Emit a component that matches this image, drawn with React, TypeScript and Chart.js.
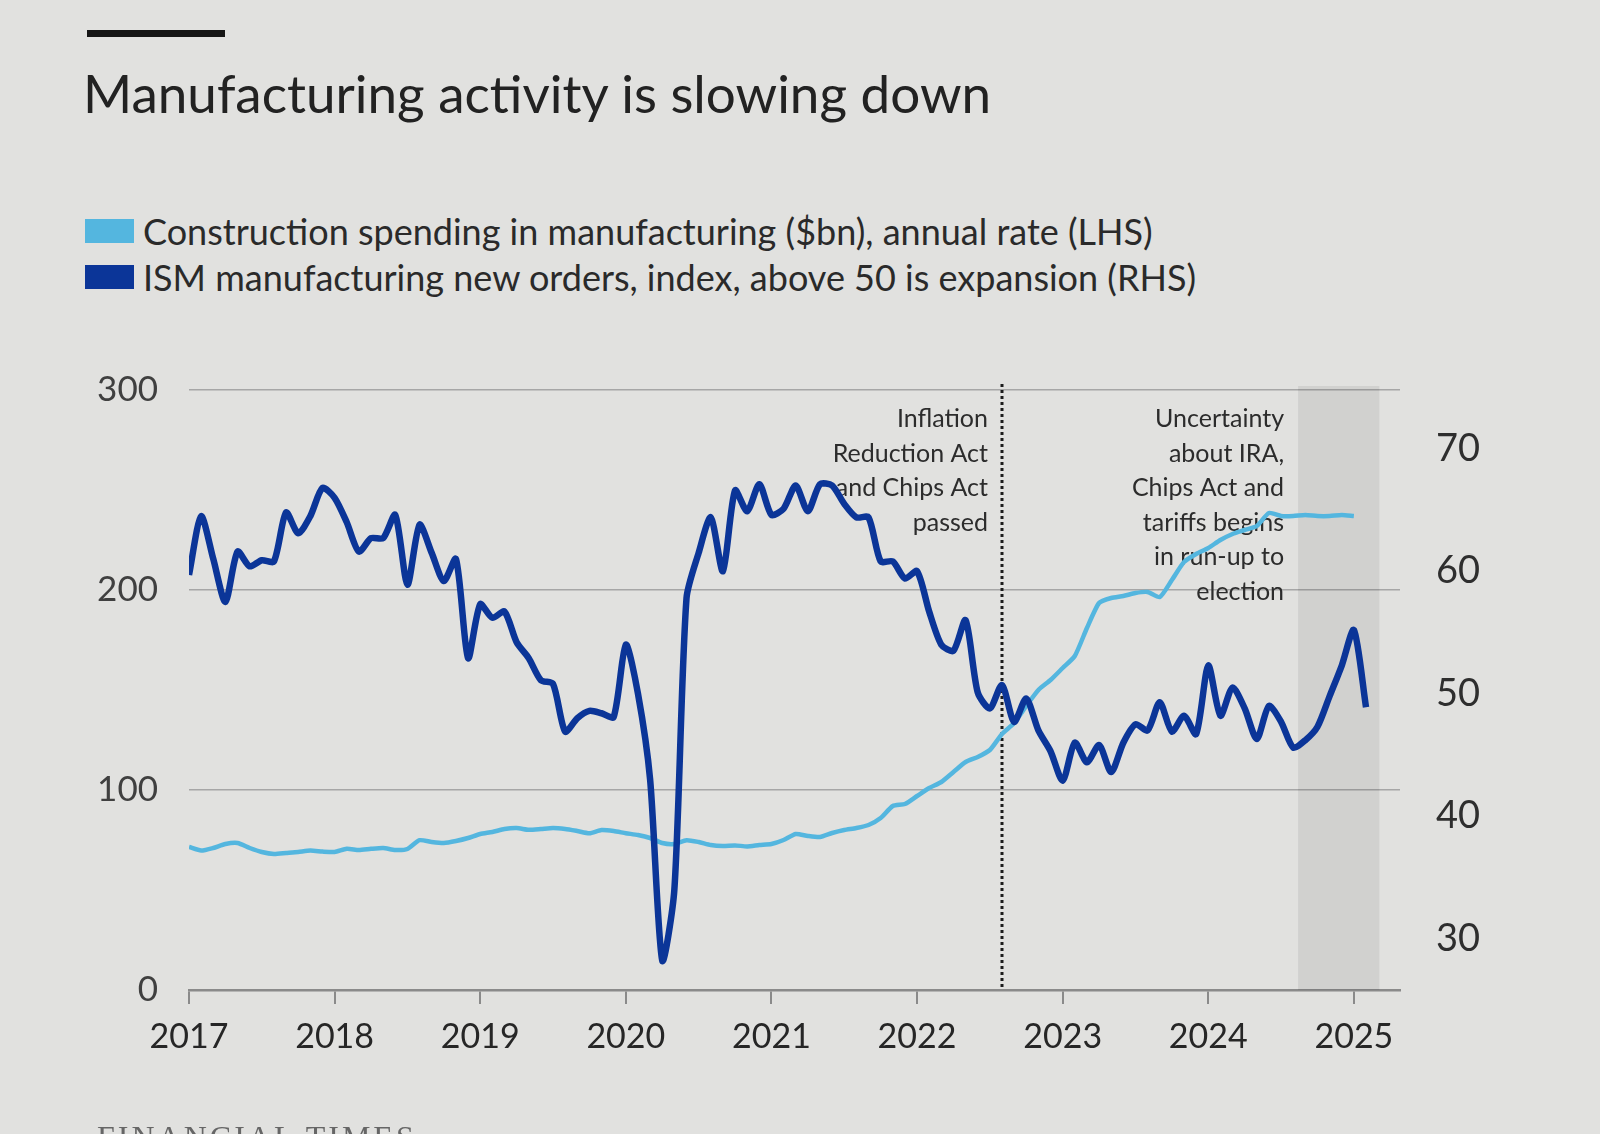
import React, { useEffect, useRef } from "react";
import { Chart, registerables } from "chart.js";

Chart.register(...registerables);

// ---- Data ----
const yearLabels = ["2017", "2018", "2019", "2020", "2021", "2022", "2023", "2024", "2025"];

// ISM manufacturing new orders index, monthly Jan 2017 - Feb 2025 (RHS)
const ismNewOrders = [
  59.7, 64.5, 61.0, 57.5, 61.6, 60.4, 60.9, 60.8, 64.8, 63.1, 64.5, 66.8,
  66.0, 64.0, 61.6, 62.7, 62.7, 64.6, 58.9, 63.8, 61.5, 59.2, 61.0, 52.9,
  57.3, 56.2, 56.7, 54.2, 52.9, 51.1, 50.8, 46.9, 48.0, 48.6, 48.4, 48.1,
  54.0, 50.0, 43.0, 28.2, 34.0, 57.8, 61.5, 64.4, 60.0, 66.6, 64.9, 67.1,
  64.6, 65.1, 67.0, 64.9, 67.1, 67.0, 65.5, 64.4, 64.4, 60.8, 60.8, 59.4,
  60.0, 56.7, 54.0, 53.5, 56.0, 50.1, 48.8, 50.7, 47.7, 49.6, 47.0, 45.3,
  42.9, 46.0, 44.4, 45.8, 43.6, 46.0, 47.5, 47.0, 49.3, 46.9, 48.2, 46.7,
  52.3, 48.2, 50.5, 48.8, 46.3, 49.0, 47.7, 45.6, 46.2, 47.3, 49.8, 52.3,
  55.2, 48.9,
];

// Construction spending in manufacturing ($bn, annual rate), Jan 2017 - Jan 2025 (LHS)
const constructionSpending = [
  71.5, 69.7, 71.0, 73.0, 73.5, 71.0, 69.0, 68.0, 68.5, 69.0, 69.7, 69.2,
  69.0, 70.6, 70.0, 70.6, 71.0, 70.0, 70.5, 74.9, 74.0, 73.5, 74.5, 76.0,
  78.0, 79.0, 80.5, 81.0, 80.1, 80.5, 81.0, 80.5, 79.5, 78.4, 80.0, 79.5,
  78.4, 77.5, 76.0, 73.5, 73.0, 74.9, 74.0, 72.5, 72.0, 72.3, 71.8, 72.5,
  73.0, 75.0, 78.0, 77.0, 76.5, 78.5, 80.0, 81.0, 82.5, 86.0, 92.0, 93.0,
  97.0, 101.0, 104.0, 109.0, 114.0, 116.5, 120.0, 128.0, 133.5, 142.0, 150.0, 155.0,
  161.0, 167.0, 181.0, 193.5, 196.0, 197.0, 198.5, 199.0, 196.5, 205.0, 214.0, 218.0,
  221.0, 225.0, 228.0, 230.0, 232.0, 238.5, 237.0, 237.0, 237.5, 237.0, 237.0, 237.5,
  237.0,
];

const leftTicks = [0, 100, 200, 300];
const rightTicks = [30, 40, 50, 60, 70];

// months since Jan 2017
const iraPassedMonth = 67; // Aug 2022
const uncertaintyStart = 91.4; // Aug 2024
const uncertaintyEnd = 98.1;

const iraNote = ["Inflation", "Reduction Act", "and Chips Act", "passed"];
const uncertaintyNote = ["Uncertainty", "about IRA,", "Chips Act and", "tariffs begins", "in run-up to", "election"];

const legendItems = [
  { label: "Construction spending in manufacturing ($bn), annual rate (LHS)", color: "#54b6df" },
  { label: "ISM manufacturing new orders, index, above 50 is expansion (RHS)", color: "#0b3598" },
];

const FONT = "Lato, 'Open Sans', sans-serif";

const overlayPlugin = {
  id: "overlayNotes",
  beforeDatasetsDraw(chart: any) {
    const { ctx, chartArea, scales } = chart;
    const xs = scales.x;
    ctx.save();
    const b0 = xs.getPixelForValue(uncertaintyStart);
    const b1 = xs.getPixelForValue(uncertaintyEnd);
    ctx.fillStyle = "rgba(0,0,0,0.07)";
    ctx.fillRect(b0, chartArea.top - 4, b1 - b0, chartArea.bottom - chartArea.top + 4);

    const dx = xs.getPixelForValue(iraPassedMonth);
    ctx.strokeStyle = "#1c1c1c";
    ctx.lineWidth = 3;
    ctx.setLineDash([3, 3]);
    ctx.beginPath();
    ctx.moveTo(dx, chartArea.top - 6);
    ctx.lineTo(dx, chartArea.bottom);
    ctx.stroke();
    ctx.setLineDash([]);

    ctx.font = `25px ${FONT}`;
    ctx.fillStyle = "#2c2c2c";
    ctx.textAlign = "right";
    ctx.textBaseline = "middle";
    iraNote.forEach((t, i) => ctx.fillText(t, dx - 14, chartArea.top + 29 + i * 34.5));
    uncertaintyNote.forEach((t, i) => ctx.fillText(t, b0 - 14, chartArea.top + 29 + i * 34.5));
    ctx.restore();
  },
};

export default function App() {
  const canvasRef = useRef<HTMLCanvasElement | null>(null);

  useEffect(() => {
    if (!canvasRef.current) return;
    const chart = new Chart(canvasRef.current, {
      type: "line",
      data: {
        datasets: [
          {
            label: legendItems[1].label,
            data: ismNewOrders.map((v, i) => ({ x: i, y: v })),
            yAxisID: "yR",
            borderColor: legendItems[1].color,
            borderWidth: 6.5,
            pointRadius: 0,
            tension: 0.25,
            order: 0,
          },
          {
            label: legendItems[0].label,
            data: constructionSpending.map((v, i) => ({ x: i, y: v })),
            yAxisID: "yL",
            borderColor: legendItems[0].color,
            borderWidth: 4.5,
            pointRadius: 0,
            tension: 0.2,
            order: 1,
          },
        ],
      },
      options: {
        animation: false,
        responsive: false,
        devicePixelRatio: 1,
        layout: { padding: { top: 390, left: 0, right: 0, bottom: 0 } },
        plugins: { legend: { display: false }, tooltip: { enabled: false }, title: { display: false } },
        scales: {
          x: {
            type: "linear",
            min: 0,
            max: 99.8,
            afterBuildTicks: (s: any) => {
              s.ticks = yearLabels.map((_, i) => ({ value: i * 12 }));
            },
            afterFit: (s: any) => {
              s.height = 144;
            },
            ticks: {
              autoSkip: false,
              maxRotation: 0,
              padding: 13,
              color: "#262626",
              font: { family: FONT, size: 34 },
              callback: (v: any) => yearLabels[Math.round(Number(v) / 12)],
            },
            grid: { drawOnChartArea: false, drawTicks: true, tickLength: 14, color: "#8a8a8a", lineWidth: 2 },
            border: { display: true, color: "#8a8a8a", width: 2.5 },
          },
          yL: {
            type: "linear",
            position: "left",
            min: 0,
            max: 300,
            afterBuildTicks: (s: any) => {
              s.ticks = leftTicks.map((v) => ({ value: v }));
            },
            afterFit: (s: any) => {
              s.width = 189;
            },
            ticks: { padding: 31, color: "#404040", font: { family: FONT, size: 35 } },
            grid: { color: "#a6a6a6", lineWidth: 1.5, drawTicks: false },
            border: { display: false },
          },
          yR: {
            type: "linear",
            position: "right",
            min: 25.8,
            max: 74.8,
            afterBuildTicks: (s: any) => {
              s.ticks = rightTicks.map((v) => ({ value: v }));
            },
            afterFit: (s: any) => {
              s.width = 200;
            },
            ticks: { padding: 36, color: "#2e2e2e", font: { family: FONT, size: 38 } },
            grid: { display: false, drawTicks: false },
            border: { display: false },
          },
        },
      },
      plugins: [overlayPlugin],
    });
    return () => chart.destroy();
  }, []);

  return (
    <div
      style={{
        position: "absolute",
        left: 0,
        top: 0,
        width: 1600,
        height: 1134,
        overflow: "hidden",
        background: "#e1e1df",
        fontFamily: FONT,
        color: "#262626",
      }}
    >
      <div style={{ position: "absolute", left: 87, top: 30, width: 138, height: 7, background: "#151515" }} />
      <div style={{ position: "absolute", left: 83, top: 66, fontSize: 53, lineHeight: "53px", whiteSpace: "nowrap", color: "#222" }}>
        Manufacturing activity is slowing down
      </div>
      {legendItems.map((it, i) => (
        <div
          key={it.label}
          style={{
            position: "absolute",
            left: 85,
            top: 213 + i * 46,
            height: 36,
            display: "flex",
            alignItems: "center",
            whiteSpace: "nowrap",
          }}
        >
          <span style={{ display: "inline-block", width: 49, height: 24, background: it.color, marginRight: 9 }} />
          <span style={{ fontSize: 36, color: "#2a2a2a" }}>{it.label}</span>
        </div>
      ))}
      <canvas ref={canvasRef} width={1600} height={1134} style={{ position: "absolute", left: 0, top: 0 }} />
      <div
        style={{
          position: "absolute",
          left: 97,
          top: 1121,
          fontFamily: "'Liberation Serif', serif",
          fontSize: 32,
          letterSpacing: 3,
          color: "#666",
          lineHeight: "32px",
        }}
      >
        FINANCIAL TIMES
      </div>
    </div>
  );
}
